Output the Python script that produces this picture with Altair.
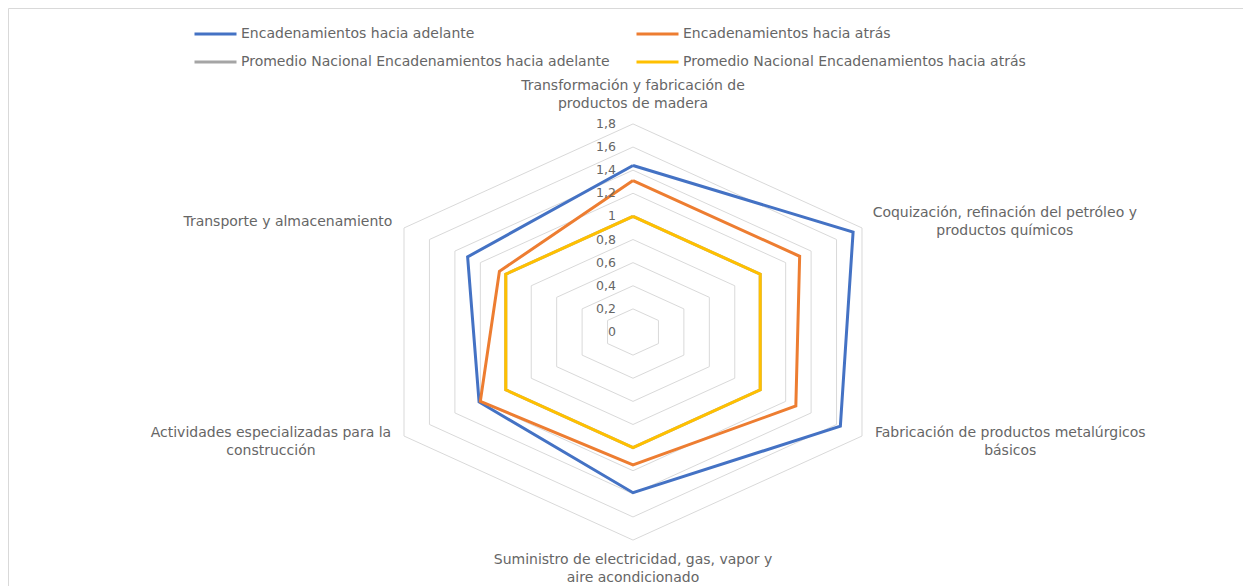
import math
import altair as alt
import pandas as pd

# ---------------- data ----------------
categories = [
    ["Transformación y fabricación de", "productos de madera"],
    ["Coquización, refinación del petróleo y", "productos químicos"],
    ["Fabricación de productos metalúrgicos", "básicos"],
    ["Suministro de electricidad, gas, vapor y", "aire acondicionado"],
    ["Actividades especializadas para la", "construcción"],
    ["Transporte y almacenamiento"],
]
series_names = [
    "Encadenamientos hacia adelante",
    "Encadenamientos hacia atrás",
    "Promedio Nacional Encadenamientos hacia adelante",
    "Promedio Nacional Encadenamientos hacia atrás",
]
adelante = [1.44, 1.73, 1.63, 1.39, 1.21, 1.30]
atras = [1.31, 1.31, 1.28, 1.15, 1.20, 1.05]
prom_adelante = [1.0, 1.0, 1.0, 1.0, 1.0, 1.0]
prom_atras = [1.0, 1.0, 1.0, 1.0, 1.0, 1.0]
series_values = [adelante, atras, prom_adelante, prom_atras]
series_colors = ["#4472C4", "#ED7D31", "#A5A5A5", "#FFC000"]

ticks = [0, 0.2, 0.4, 0.6, 0.8, 1.0, 1.2, 1.4, 1.6, 1.8]
tick_labels = ["0", "0,2", "0,4", "0,6", "0,8", "1", "1,2", "1,4", "1,6", "1,8"]

# ---------------- layout / style ----------------
W, H = 1235, 578
CX, CY = 625, 324            # centre of the radar (chart px)
PX_X, PX_Y = 146.9, 115.6    # px per unit horizontally / vertically
R_MAX = max(ticks)
N = len(categories)
FONT = "DejaVu Sans"
TXT = "#666666"
LAB_SIZE = 14
LINE_H = 18

x_scale = alt.Scale(domain=[-CX / PX_X, (W - CX) / PX_X], nice=False, zero=False)
y_scale = alt.Scale(domain=[-(H - CY) / PX_Y, CY / PX_Y], nice=False, zero=False)

# closed polygons
rows = []
for name, vals in zip(series_names, series_values):
    for i in range(N + 1):
        rows.append({"series": name, "idx": i, "value": vals[i % N]})
series_df = pd.DataFrame(rows)

grid_rows = []
for t in ticks[1:]:
    for i in range(N + 1):
        grid_rows.append({"ring": t, "idx": i, "value": t})
grid_df = pd.DataFrame(grid_rows)

tick_df = pd.DataFrame({"tick": ticks, "label": tick_labels})

# approximate DejaVu Sans glyph widths (em) to centre multi-line labels
def text_width(s, size):
    w = 0.0
    for ch in s:
        if ch in "il,.;:'|j":
            w += 0.29
        elif ch in " ":
            w += 0.32
        elif ch in "ftr":
            w += 0.39
        elif ch == "m":
            w += 0.97
        elif ch.isupper():
            w += 0.68
        else:
            w += 0.61
    return w * size

lab_rows = []
for i, lines in enumerate(categories):
    th = i * 2 * math.pi / N
    s, c = math.sin(th), math.cos(th)
    vx, vy = R_MAX * s, R_MAX * c
    n = len(lines)
    if abs(s) < 0.01:
        x = 0.0
        if c > 0:
            y = vy + 38 / PX_Y
        else:
            y = vy - 19.5 / PX_Y
    else:
        w = max(text_width(l, LAB_SIZE) for l in lines)
        x = vx + math.copysign((10 + w / 2) / PX_X, s)
        y = vy + math.copysign(5.5 / PX_Y, c) + (n - 1) * (LINE_H / 2) / PX_Y
    lab_rows.append({"text": lines, "lx": x, "ly": y})
lab_df = pd.DataFrame(lab_rows)

calc_x = "datum.value * sin(datum.idx * 2 * PI / %d)" % N
calc_y = "datum.value * cos(datum.idx * 2 * PI / %d)" % N

color_scale = alt.Scale(domain=series_names, range=series_colors)
legend = alt.Legend(
    orient="none", legendX=185, legendY=16, columns=2, direction="horizontal",
    symbolType="stroke", symbolSize=1764, symbolStrokeWidth=3,
    clipHeight=20, rowPadding=8, columnPadding=25, labelOffset=3,
    labelFont=FONT, labelFontSize=LAB_SIZE, labelColor=TXT, labelLimit=800,
    padding=0,
)

grid = alt.Chart(grid_df).mark_line(color="#d9d9d9", strokeWidth=1).transform_calculate(
    px=calc_x, py=calc_y
).encode(
    x=alt.X("px:Q", scale=x_scale, axis=None),
    y=alt.Y("py:Q", scale=y_scale, axis=None),
    detail="ring:N",
    order="idx:Q",
)

layers = [grid]
for name in series_names:
    layers.append(
        alt.Chart(series_df).transform_filter(alt.datum.series == name)
        .mark_line(strokeWidth=3, strokeJoin="miter")
        .transform_calculate(px=calc_x, py=calc_y)
        .encode(
            x=alt.X("px:Q", scale=x_scale, axis=None),
            y=alt.Y("py:Q", scale=y_scale, axis=None),
            color=alt.Color("series:N", scale=color_scale, legend=legend, title=None),
            order="idx:Q",
        )
    )

tick_text = alt.Chart(tick_df).mark_text(
    align="right", baseline="middle", dx=-17, font=FONT, fontSize=12.5, color=TXT
).transform_calculate(px="0").encode(
    x=alt.X("px:Q", scale=x_scale, axis=None),
    y=alt.Y("tick:Q", scale=y_scale, axis=None),
    text="label:N",
)

cat_text = alt.Chart(lab_df).mark_text(
    align="center", baseline="middle", font=FONT, fontSize=LAB_SIZE,
    color=TXT, lineHeight=LINE_H,
).encode(
    x=alt.X("lx:Q", scale=x_scale, axis=None),
    y=alt.Y("ly:Q", scale=y_scale, axis=None),
    text="text",
)

layers += [tick_text, cat_text]

chart = alt.layer(*layers).properties(
    width=W, height=H, padding=0, autosize=alt.AutoSizeParams(type="none"),
    background="white",
).configure_view(stroke="#d9d9d9", strokeWidth=1)

chart.save("out.html", embed_options={"renderer": "svg", "actions": False})
